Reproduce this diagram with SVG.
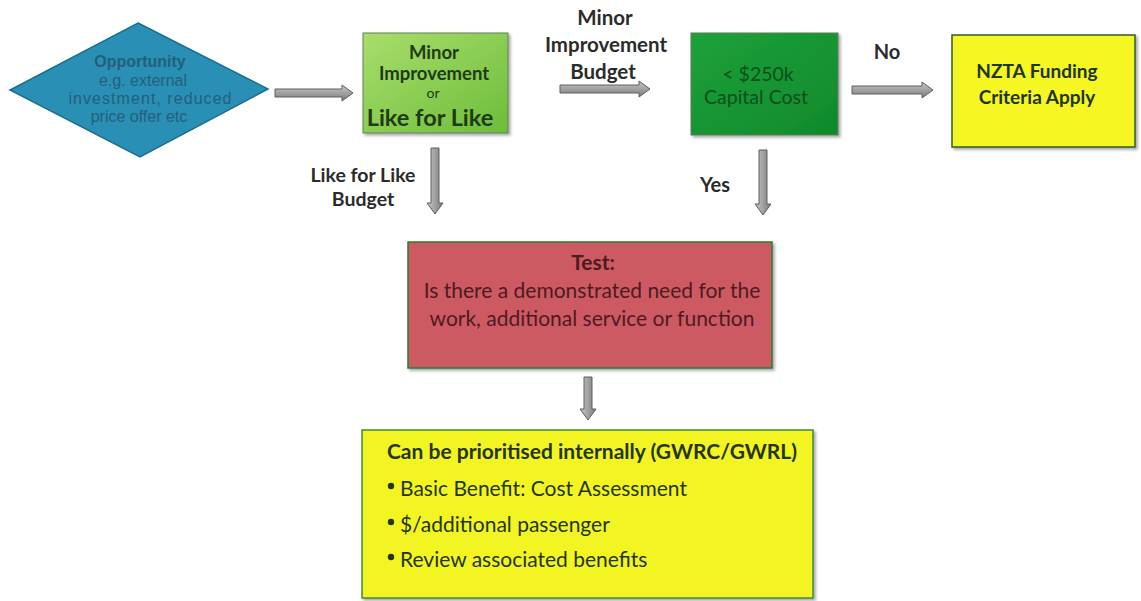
<svg xmlns="http://www.w3.org/2000/svg" width="1141" height="601" viewBox="0 0 1141 601">
  <defs>
    <linearGradient id="gLight" x1="0" y1="0" x2="1" y2="1">
      <stop offset="0" stop-color="#a9de6c"/>
      <stop offset="1" stop-color="#6cbd3a"/>
    </linearGradient>
    <linearGradient id="gDark" x1="0" y1="0" x2="1" y2="1">
      <stop offset="0" stop-color="#1ea13a"/>
      <stop offset="1" stop-color="#0f8a2b"/>
    </linearGradient>
    <linearGradient id="gArrowH" x1="0" y1="0" x2="0" y2="1">
      <stop offset="0" stop-color="#c8c8c8"/>
      <stop offset="1" stop-color="#7a7a7a"/>
    </linearGradient>
    <linearGradient id="gArrowV" x1="0" y1="0" x2="1" y2="0">
      <stop offset="0" stop-color="#c8c8c8"/>
      <stop offset="1" stop-color="#7a7a7a"/>
    </linearGradient>
    <filter id="shadow" x="-5%" y="-5%" width="112%" height="115%">
      <feDropShadow dx="2" dy="2" stdDeviation="1.5" flood-color="#000" flood-opacity="0.35"/>
    </filter>
  </defs>
  <style>
    text { font-family: Lato, "Open Sans", "Liberation Sans", sans-serif; text-anchor: middle; }
    .lbl { font-size: 20px; font-weight: bold; fill: #2b2b2b; }
    .arrowH { fill: url(#gArrowH); stroke: #5e5e5e; stroke-width: 1; }
    .arrowV { fill: url(#gArrowV); stroke: #5e5e5e; stroke-width: 1; }
    .dia { font-family: "Liberation Sans", Arial, sans-serif; font-size: 16px; fill: #22607c; }
    .bul { text-anchor: start; font-size: 21px; fill: #263510; }
  </style>
  <rect width="1141" height="601" fill="#ffffff"/>

  <!-- connectors -->
  <g id="connectors">
    <path class="arrowH" d="M275,89 H342 V85 L353,93 L342,101 V97 H275 Z"/>
    <path class="arrowH" d="M560,85 H639 V81 L650,89 L639,97 V93 H560 Z"/>
    <path class="arrowH" d="M852,86 H922 V82 L933,90 L922,98 V94 H852 Z"/>
    <path class="arrowV" d="M431,148 V203 H427 L435,214 L443,203 H439 V148 Z"/>
    <path class="arrowV" d="M759,150 V204 H755 L763,215 L771,204 H767 V150 Z"/>
    <path class="arrowV" d="M584,377 V409 H580 L588,420 L596,409 H592 V377 Z"/>
    <text class="lbl" x="363" y="182" style="font-size:19.5px">Like for Like</text>
    <text class="lbl" x="363" y="206" style="font-size:19.5px">Budget</text>
    <text class="lbl" x="605" y="25" style="font-size:20.5px">Minor</text>
    <text class="lbl" x="606" y="52" style="font-size:20.5px">Improvement</text>
    <text class="lbl" x="603" y="79" style="font-size:20.5px">Budget</text>
    <text class="lbl" x="887" y="59">No</text>
    <text class="lbl" x="715" y="192">Yes</text>
  </g>

  <!-- opportunity decision -->
  <g id="opportunity">
    <polygon points="138,23 268,89 140,157 10,90" fill="#2a8fb5" stroke="#1b6f90" stroke-width="1.5"/>
    <text class="dia" x="140" y="67" font-weight="bold" fill="#1c5670">Opportunity</text>
    <text class="dia" x="143" y="86">e.g. external</text>
    <text class="dia" x="150" y="104" textLength="163" lengthAdjust="spacing">investment, reduced</text>
    <text class="dia" x="139" y="122">price offer etc</text>
  </g>

  <!-- budget type -->
  <g id="minor-or-like">
    <rect x="363" y="33" width="145" height="100" fill="url(#gLight)" stroke="#6b7a5a" stroke-width="1" filter="url(#shadow)"/>
    <text x="434" y="59" font-size="18.5" font-weight="bold" fill="#1f3a14">Minor</text>
    <text x="434" y="80" font-size="18.5" font-weight="bold" fill="#1f3a14">Improvement</text>
    <text x="433" y="98" font-size="14" fill="#1f3a14">or</text>
    <text x="430" y="126" font-size="23.5" font-weight="bold" fill="#1f3a14">Like for Like</text>
  </g>

  <!-- capital cost check -->
  <g id="capital-cost">
    <rect x="691" y="33" width="147" height="102" fill="url(#gDark)" stroke="#5f7a5f" stroke-width="1" filter="url(#shadow)"/>
    <text x="758" y="81" font-size="19.5" fill="#0d4e1c">&lt; $250k</text>
    <text x="756" y="104" font-size="19.5" fill="#0d4e1c">Capital Cost</text>
  </g>

  <!-- external funding -->
  <g id="nzta">
    <rect x="952" y="35" width="183" height="112" fill="#f6f622" stroke="#2f5e2a" stroke-width="1.5" filter="url(#shadow)"/>
    <text x="1037" y="78" font-size="19" font-weight="bold" fill="#1e3520">NZTA Funding</text>
    <text x="1037" y="104" font-size="19" font-weight="bold" fill="#1e3520">Criteria Apply</text>
  </g>

  <!-- need test -->
  <g id="test">
    <rect x="408" y="242" width="364" height="126" fill="#cd5a63" stroke="#2f7a2f" stroke-width="1.5" filter="url(#shadow)"/>
    <text x="593" y="270" font-size="21" font-weight="bold" fill="#4e1a20">Test:</text>
    <text x="592" y="298" font-size="21" fill="#4e1a20">Is there a demonstrated need for the</text>
    <text x="592" y="326" font-size="21" fill="#4e1a20">work, additional service or function</text>
  </g>

  <!-- internal prioritisation -->
  <g id="prioritise">
    <rect x="362" y="430" width="451" height="168" fill="#f2f520" stroke="#3c8a3c" stroke-width="1.5" filter="url(#shadow)"/>
    <text x="592" y="459" font-size="21" font-weight="bold" fill="#263510">Can be prioritised internally (GWRC/GWRL)</text>
    <g fill="#263510">
      <circle cx="391" cy="486" r="3.2"/>
      <text class="bul" x="400" y="496">Basic Benefit: Cost Assessment</text>
      <circle cx="391" cy="522" r="3.2"/>
      <text class="bul" x="400" y="532">$/additional passenger</text>
      <circle cx="391" cy="557" r="3.2"/>
      <text class="bul" x="400" y="567">Review associated benefits</text>
    </g>
  </g>
</svg>
